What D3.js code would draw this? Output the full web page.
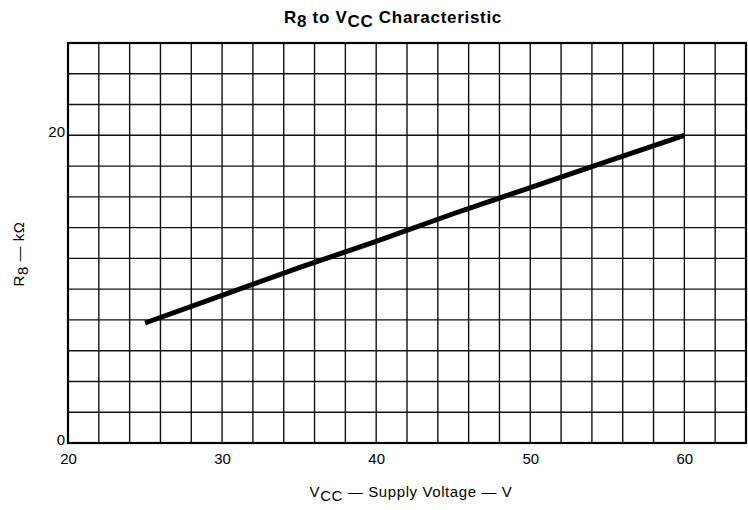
<!DOCTYPE html>
<html><head><meta charset="utf-8">
<script src="https://cdn.jsdelivr.net/npm/d3@7"></script>
<style>body{margin:0;background:#fff}svg{display:block}text{font-family:"Liberation Sans",Arial,sans-serif;fill:#000}</style>
</head><body>
<svg id="c" width="748" height="510"></svg>
<script>
const vcc = [25, 30, 35, 40, 45, 50, 55, 60];
const r8 = [7.8, 9.6, 11.4, 13.1, 14.9, 16.6, 18.3, 20.0];
const xTickLabels = [20, 30, 40, 50, 60];
const yTickLabels = [0, 20];
const xGrid = d3.range(20, 65, 2);
const yGrid = d3.range(0, 27, 2);

const svg = d3.select("#c");
const x = d3.scaleLinear().domain([20, 64]).range([68, 746]);
const y = d3.scaleLinear().domain([0, 26]).range([443, 43]);

const g = svg.append("g");
g.selectAll(".vg").data(xGrid).join("line")
  .attr("x1", d => x(d)).attr("x2", d => x(d)).attr("y1", y(0)).attr("y2", y(26))
  .attr("stroke", "#111").attr("stroke-width", 1.4);
g.selectAll(".hg").data(yGrid).join("line")
  .attr("y1", d => y(d)).attr("y2", d => y(d)).attr("x1", x(20)).attr("x2", x(64))
  .attr("stroke", "#111").attr("stroke-width", 1.4);
g.append("rect").attr("x", x(20)).attr("y", y(26)).attr("width", x(64) - x(20)).attr("height", y(0) - y(26))
  .attr("fill", "none").attr("stroke", "#000").attr("stroke-width", 2.2);

const xAxis = svg.append("g").attr("transform", `translate(0,${y(0)})`)
  .call(d3.axisBottom(x).tickValues(xTickLabels).tickSize(0).tickPadding(10).tickFormat(d3.format("d")));
xAxis.select(".domain").remove();
xAxis.selectAll("text").attr("font-size", 15).style("font-family", '"Liberation Sans",Arial,sans-serif');

const yAxis = svg.append("g").attr("transform", `translate(${x(20)},0)`)
  .call(d3.axisLeft(y).tickValues(yTickLabels).tickSize(0).tickPadding(3).tickFormat(d3.format("d")));
yAxis.select(".domain").remove();
yAxis.selectAll("text").attr("font-size", 15).attr("dy", "0.1em").style("font-family", '"Liberation Sans",Arial,sans-serif');

const line = d3.line().x((d, i) => x(vcc[i])).y(d => y(d));
svg.append("path").datum(r8).attr("d", line)
  .attr("fill", "none").attr("stroke", "#000").attr("stroke-width", 5).attr("stroke-linecap", "butt");

// title
const t = svg.append("text").attr("x", 393).attr("y", 23).attr("text-anchor", "middle")
  .attr("font-size", 17).attr("font-weight", "bold").style("letter-spacing", "0.7px");
t.append("tspan").text("R");
t.append("tspan").attr("dy", 4).text("8");
t.append("tspan").attr("dy", -4).text(" to V");
t.append("tspan").attr("dy", 4).text("CC");
t.append("tspan").attr("dy", -4).text(" Characteristic");

// x label
const xl = svg.append("text").attr("x", 411).attr("y", 497).attr("text-anchor", "middle")
  .attr("font-size", 15).style("letter-spacing", "0.6px");
xl.append("tspan").text("V");
xl.append("tspan").attr("dy", 4).text("CC");
xl.append("tspan").attr("dy", -4).text(" \u2014 Supply  Voltage \u2014 V");

// y label
const yl = svg.append("text").attr("transform", "translate(24,254) rotate(-90)").attr("text-anchor", "middle")
  .attr("font-size", 15).style("letter-spacing", "0.5px");
yl.append("tspan").text("R");
yl.append("tspan").attr("dy", 4).text("8");
yl.append("tspan").attr("dy", -4).text(" \u2014 k\u03A9");
</script>
</body></html>
